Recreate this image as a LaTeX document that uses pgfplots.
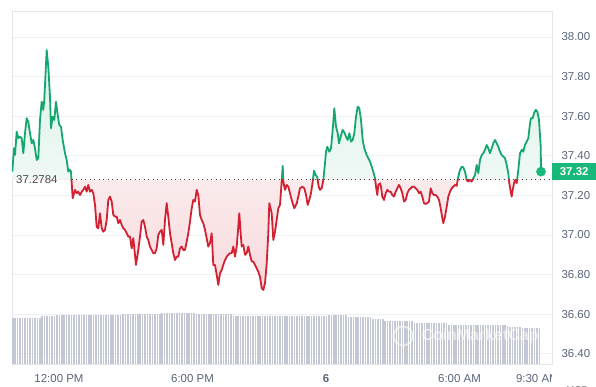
\documentclass[border=0pt]{standalone}
\usepackage{pgfplots}
\pgfplotsset{compat=1.18}
\usepackage{pgfplotstable}
\usepackage{fontspec}
\setmainfont{Liberation Sans}
\definecolor{upgreen}{RGB}{22,167,110}
\definecolor{boxgreen}{RGB}{24,183,122}
\definecolor{downred}{RGB}{210,33,50}
\definecolor{txtgray}{RGB}{88,100,120}
\definecolor{gridc}{RGB}{236,239,243}
\definecolor{framec}{RGB}{226,230,235}
\definecolor{volc}{RGB}{196,200,212}
\pgfplotstableread{
h p
-2.099 37.320
-2.022 37.438
-1.977 37.404
-1.901 37.522
-1.829 37.489
-1.753 37.497
-1.676 37.489
-1.604 37.413
-1.528 37.514
-1.452 37.590
-1.380 37.572
-1.303 37.514
-1.227 37.463
-1.155 37.480
-1.079 37.438
-1.002 37.379
-0.930 37.388
-0.854 37.581
-0.778 37.673
-0.706 37.632
-0.661 37.682
-0.553 37.934
-0.481 37.850
-0.404 37.699
-0.360 37.539
-0.283 37.598
-0.211 37.581
-0.135 37.673
-0.058 37.606
0.013 37.556
0.090 37.547
0.166 37.480
0.270 37.413
0.346 37.379
0.418 37.320
0.494 37.329
0.539 37.320
0.616 37.186
0.719 37.228
0.796 37.211
0.867 37.219
0.944 37.202
1.020 37.219
1.092 37.228
1.169 37.244
1.245 37.219
1.317 37.253
1.393 37.219
1.470 37.228
1.542 37.211
1.618 37.152
1.694 37.042
1.766 37.034
1.843 37.110
1.919 37.034
1.991 37.017
2.067 37.026
2.144 37.076
2.216 37.177
2.292 37.194
2.368 37.169
2.440 37.102
2.517 37.093
2.593 37.093
2.665 37.060
2.742 37.076
2.818 37.051
2.890 37.034
2.966 37.026
3.043 37.009
3.115 36.992
3.191 36.992
3.267 36.933
3.339 36.984
3.461 36.849
3.564 36.925
3.640 36.992
3.717 37.068
3.789 37.076
3.865 37.042
3.942 36.992
4.013 36.975
4.090 36.942
4.166 36.925
4.238 36.908
4.315 36.908
4.391 36.933
4.463 37.001
4.539 37.017
4.616 37.026
4.688 36.950
4.764 37.076
4.841 37.161
4.912 37.093
4.989 37.009
5.065 36.959
5.137 36.908
5.214 36.874
5.290 36.891
5.362 36.891
5.438 36.933
5.515 36.942
5.587 36.925
5.663 36.925
5.739 36.967
5.811 37.009
5.888 37.068
5.964 37.135
6.036 37.177
6.112 37.169
6.189 37.228
6.261 37.202
6.337 37.101
6.414 37.076
6.485 37.060
6.562 37.026
6.638 36.984
6.710 36.942
6.787 36.959
6.863 37.009
6.935 36.849
7.011 36.849
7.088 36.799
7.160 36.748
7.236 36.807
7.312 36.824
7.384 36.849
7.461 36.874
7.537 36.891
7.609 36.900
7.685 36.908
7.762 36.908
7.834 36.942
7.910 36.891
7.987 36.942
8.058 37.042
8.103 37.110
8.166 37.009
8.211 36.942
8.283 36.950
8.360 36.900
8.436 36.908
8.508 36.942
8.584 36.900
8.661 36.866
8.733 36.866
8.809 36.849
8.885 36.832
8.957 36.815
9.034 36.790
9.110 36.732
9.182 36.723
9.259 36.757
9.335 36.858
9.407 37.009
9.452 37.161
9.560 37.110
9.632 36.975
9.708 37.017
9.784 37.076
9.856 37.135
9.933 37.152
10.009 37.270
10.054 37.349
10.081 37.270
10.157 37.228
10.234 37.253
10.306 37.244
10.382 37.211
10.458 37.177
10.575 37.135
10.683 37.160
10.755 37.194
10.832 37.236
10.935 37.244
11.025 37.236
11.101 37.203
11.178 37.152
11.250 37.177
11.326 37.211
11.402 37.270
11.461 37.325
11.537 37.303
11.609 37.292
11.672 37.244
11.730 37.228
11.807 37.236
11.879 37.278
11.955 37.362
12.000 37.421
12.058 37.446
12.148 37.421
12.225 37.438
12.301 37.531
12.373 37.640
12.450 37.547
12.526 37.514
12.584 37.463
12.661 37.497
12.751 37.531
12.841 37.514
12.899 37.497
12.976 37.480
13.048 37.514
13.124 37.472
13.200 37.480
13.272 37.514
13.349 37.598
13.425 37.648
13.497 37.640
13.573 37.581
13.649 37.480
13.721 37.438
13.829 37.404
13.901 37.388
13.978 37.371
14.054 37.345
14.126 37.320
14.202 37.287
14.247 37.244
14.306 37.202
14.351 37.253
14.427 37.261
14.472 37.244
14.530 37.194
14.607 37.177
14.683 37.211
14.755 37.228
14.831 37.219
14.908 37.219
14.980 37.202
15.056 37.194
15.133 37.219
15.205 37.236
15.281 37.253
15.357 37.236
15.429 37.211
15.506 37.169
15.582 37.177
15.654 37.211
15.730 37.228
15.807 37.236
15.879 37.244
15.955 37.244
16.031 37.236
16.103 37.228
16.180 37.211
16.256 37.219
16.328 37.194
16.404 37.161
16.481 37.157
16.553 37.161
16.629 37.169
16.706 37.236
16.778 37.211
16.854 37.202
16.930 37.202
17.002 37.194
17.079 37.177
17.155 37.135
17.227 37.085
17.272 37.060
17.348 37.093
17.425 37.143
17.497 37.194
17.573 37.219
17.649 37.236
17.721 37.244
17.798 37.253
17.874 37.248
17.946 37.295
18.022 37.329
18.099 37.345
18.171 37.342
18.247 37.320
18.324 37.278
18.396 37.270
18.472 37.278
18.548 37.270
18.620 37.287
18.697 37.303
18.773 37.354
18.845 37.312
18.921 37.379
18.998 37.404
19.070 37.413
19.146 37.430
19.222 37.455
19.294 37.438
19.371 37.413
19.447 37.438
19.519 37.463
19.596 37.480
19.672 37.463
19.744 37.446
19.820 37.421
19.897 37.404
19.969 37.396
20.045 37.388
20.121 37.354
20.193 37.312
20.238 37.262
20.301 37.219
20.346 37.194
20.391 37.228
20.450 37.262
20.508 37.278
20.571 37.262
20.643 37.329
20.720 37.413
20.796 37.430
20.868 37.421
20.944 37.455
21.021 37.472
21.093 37.489
21.169 37.564
21.214 37.590
21.290 37.590
21.348 37.615
21.425 37.632
21.497 37.623
21.573 37.581
21.650 37.446
21.663 37.320
}\pricedata
\pgfplotstableread{
h
46.3
46.3
46.3
46.3
46.3
46.3
46.3
46.3
46.3
46.3
46.3
46.3
48
48
48
48
48
48
49
49
49
49
49
49
49
49
49
49
49
49
49
49
49
49
49
49
49
49
49
49
49
49
49
49
49
49.7
49.7
49.7
49.7
49.7
49.7
49.7
49.7
49.7
49.7
49.7
49.7
49.7
49.7
49.7
49.7
50.7
50.7
50.7
50.7
50.7
50.7
50.7
50.7
50.7
50.7
50.7
50.7
50.7
50.7
49.7
49.7
49.7
49.7
49.7
49.7
49.7
49.7
49.7
49.7
49.7
49.7
49.7
49.7
49.7
48
48
48
48
48
48
48
48
48
48
48
48
48
48
48
48
48
48
48
48
48
48
48
48
48
48
48
48
48
48
48
48
48
48
48
48
48
48
48
49
49
49
49
49
49
49
49
47.3
47.3
47.3
47.3
47.3
47.3
47.3
47.3
47.3
47.3
44.7
44.7
44.7
44.7
44.7
43
43
43
43
43
43
43
43
43
43
43
43
41.3
41.3
41.3
41.3
41.3
41.3
41.3
41.3
41.3
41.3
41.3
41.3
41.3
41.3
39
39
39
39
39
39
39
39
39
39
39
39
39
39
39
39
39
39
39
39
39
39
39
39
37.6
37.4
37.2
37.0
36.8
36.6
36.4
36.2
36.0
35.9
35.8
35.7
35.6
35.5
}\voldata
\begin{document}
\begin{tikzpicture}
\begin{axis}[
  at={(0,0)}, anchor=south west, scale only axis,
  width=540bp, height=353bp,
  xmin=-2.112, xmax=22.157, ymin=36.349, ymax=38.131,
  axis line style={draw=framec, line width=0.8bp},
  ymajorgrids, grid style={draw=gridc, line width=0.8bp},
  major tick length=0pt,
  ytick={36.4,36.6,36.8,37.0,37.2,37.4,37.6,37.8,38.0},
  yticklabel pos=right,
  yticklabel style={anchor=west, xshift=6bp, font=\fontsize{11.5}{13}\selectfont, text=txtgray,
    /pgf/number format/fixed, /pgf/number format/fixed zerofill,
    /pgf/number format/precision=2, /pgf/number format/assume math mode=true},
  xtick={0,6,12,18,21.5},
  xticklabels={12:00 PM, 6:00 PM, \textbf{6}, 6:00 AM, 9:30 AM},
  xticklabel style={anchor=center, yshift=-15bp, font=\fontsize{11.5}{13}\selectfont, text=txtgray},
]
\begin{scope}
\clip (axis cs:-3,37.2784) rectangle (axis cs:23,38.3);
\addplot[draw=none, top color=upgreen!15, middle color=upgreen!3, bottom color=white] table {\pricedata} -- (axis cs:21.663,37.2784) -- (axis cs:-2.099,37.2784) -- cycle;
\end{scope}
\begin{scope}
\clip (axis cs:-3,36.2) rectangle (axis cs:23,37.2784);
\addplot[draw=none, top color=white, middle color=downred!3, bottom color=downred!17] table {\pricedata} -- (axis cs:21.663,37.2784) -- (axis cs:-2.099,37.2784) -- cycle;
\end{scope}
\addplot[black!75, line width=0.9bp, dash pattern=on 0.9bp off 3.6bp] coordinates {(0.57,37.2784) (22.157,37.2784)};
\begin{scope}
\clip (axis cs:-3,37.2784) rectangle (axis cs:23,38.3);
\addplot[upgreen, line width=1.8bp, line join=round] table {\pricedata};
\end{scope}
\begin{scope}
\clip (axis cs:-3,36.2) rectangle (axis cs:23,37.2784);
\addplot[downred, line width=1.8bp, line join=round] table {\pricedata};
\end{scope}
\addplot[only marks, mark=*, mark size=4.6bp, boxgreen] coordinates {(21.663,37.32)};
\node[anchor=west, text=black!70, font=\fontsize{11.5}{13}\selectfont, inner sep=1bp] at (axis cs:-2.112,37.2784) [xshift=3bp] {37.2784};
\coordinate (lastp) at (axis cs:22.157,37.32);
\end{axis}
\begin{axis}[
  at={(0,0)}, anchor=south west, scale only axis,
  width=540bp, height=353bp,
  xmin=-0.33, xmax=220.1, ymin=0, ymax=353, hide axis]
\addplot[ycomb, draw=volc, line width=1.55bp, mark=none] table[x expr=\coordindex, y=h] {\voldata};
\end{axis}
\node[circle, draw=white, line width=1.8bp, minimum size=19bp, opacity=0.6] at (391bp,28bp) {};
\node[anchor=west, text=white, opacity=0.6, font=\fontsize{16}{18}\selectfont\bfseries] at (406bp,28bp) {CoinMarketCap};
\node[anchor=west, fill=boxgreen, text=white, font=\fontsize{11.5}{13}\selectfont\bfseries, minimum width=44bp, minimum height=17bp, inner sep=0pt] at (lastp) {37.32};
\fill[white] (540.4bp,-5bp) rectangle (600bp,-30bp);
\node[text=black!75, font=\fontsize{11}{13}\selectfont\bfseries] at (566bp,-27bp) {USD};
\pgfresetboundingbox
\useasboundingbox (-12bp,-23bp) rectangle (584bp,364bp);
\end{tikzpicture}
\end{document}
